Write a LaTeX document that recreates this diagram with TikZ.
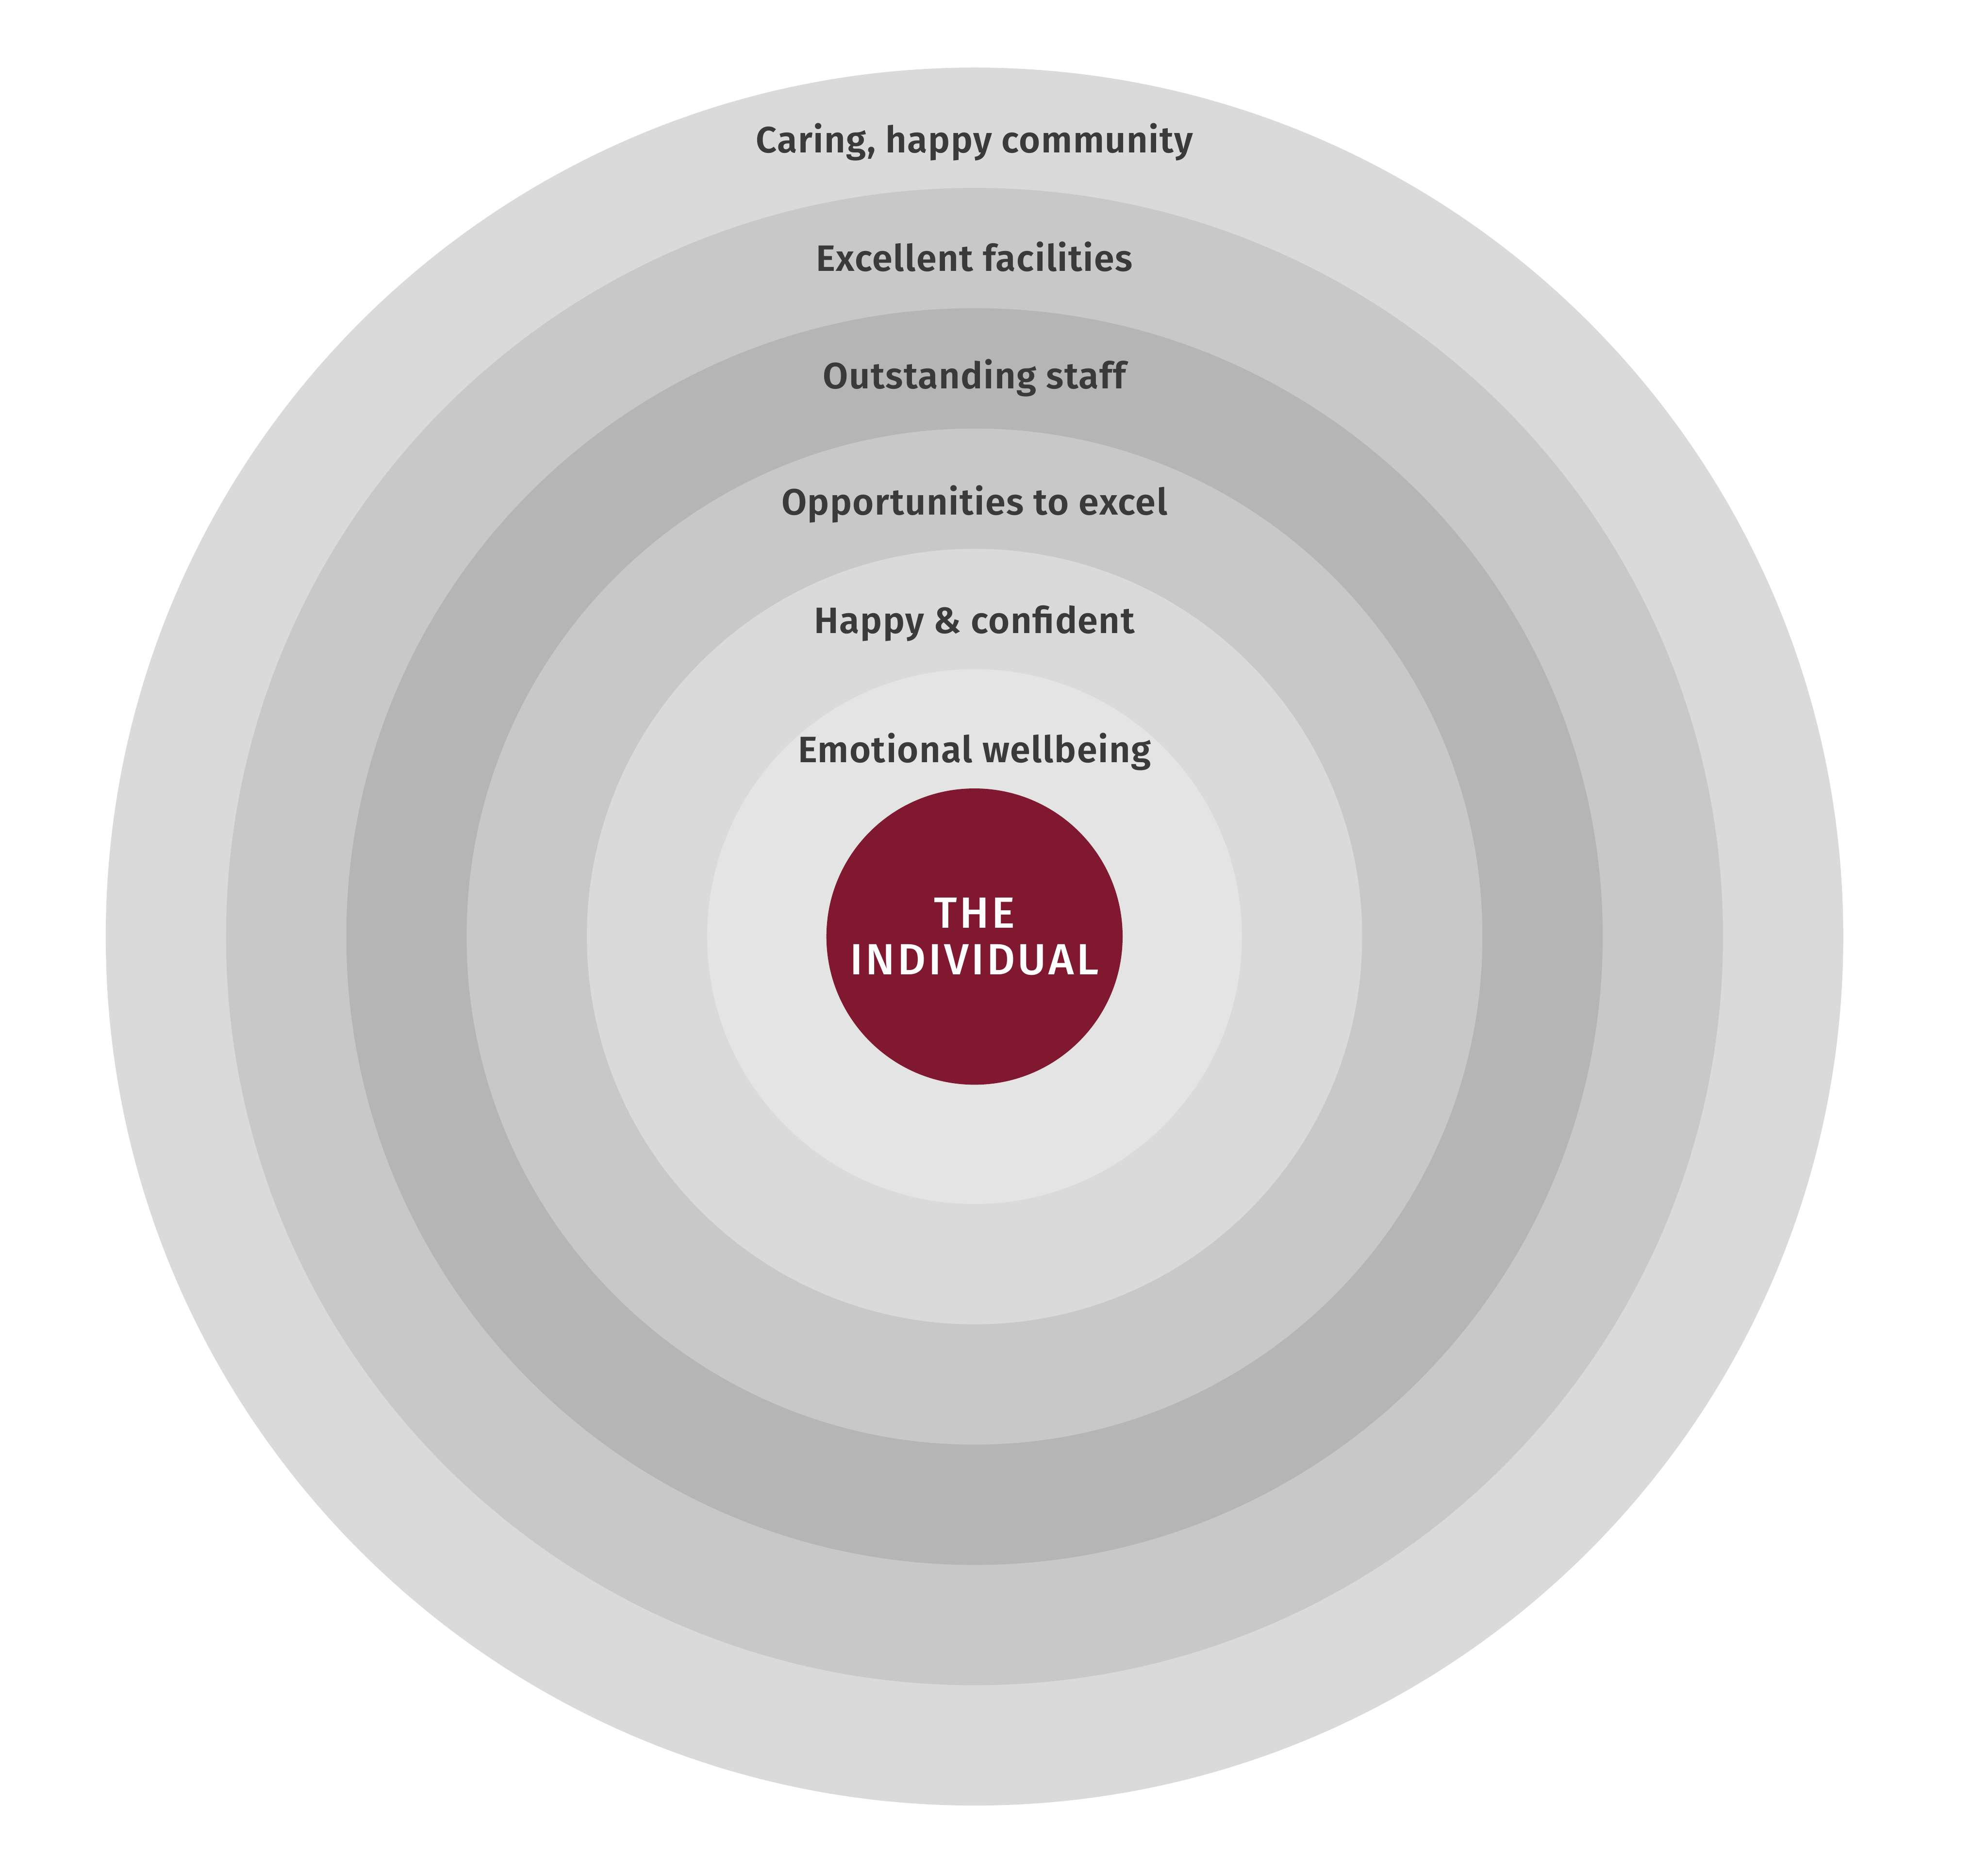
\documentclass[tikz,border=0pt]{standalone}
\usepackage{fontspec}
\setmainfont{Fira Sans}
\newfontfamily\ringfont[LetterSpace=2]{Fira Sans SemiBold}
\newfontfamily\corefont[LetterSpace=6]{Fira Sans Medium}

\definecolor{ringlight}{HTML}{DADADA}
\definecolor{ringmid}{HTML}{C8C8C8}
\definecolor{ringdark}{HTML}{B5B5B5}
\definecolor{ringpale}{HTML}{E4E4E4}
\definecolor{claret}{HTML}{801830}
\definecolor{labelgray}{HTML}{3A3A3A}

\tikzset{
  ringlabel/.style={font=\ringfont\fontsize{10.5}{12}\selectfont, text=labelgray, inner sep=0pt},
  corelabel/.style={font=\corefont\fontsize{12.5}{13.4}\selectfont, text=white, align=center, inner sep=0pt}
}

\begin{document}
\begin{tikzpicture}
    \useasboundingbox (-9.804,-9.236) rectangle (10.196,9.42);
    \fill[white] (-9.804,-9.236) rectangle (10.196,9.42);

    % Ringe von aussen nach innen
    \fill[ringlight] (0,0) circle (8.74);
    \fill[ringmid] (0,0) circle (7.53);
    \fill[ringdark] (0,0) circle (6.32);
    \fill[ringmid] (0,0) circle (5.11);
    \fill[ringlight] (0,0) circle (3.90);
    \fill[ringpale] (0,0) circle (2.69);

    % Kern
    \fill[claret] (0,0.0) circle (1.49);
    \node[corelabel] (individual) at (0,0) {THE\\INDIVIDUAL};

    % Beschriftungen
    \node[ringlabel] (community) at (0,7.99) {Caring, happy community};
    \node[ringlabel] (facilities) at (0,6.84) {Excellent facilities};
    \node[ringlabel] (staff) at (0,5.62) {Outstanding staff};
    \node[ringlabel] (excel) at (0,4.35) {Opportunities to excel};
    \node[ringlabel] (confident) at (0,3.15) {Happy \& confident};
    \node[ringlabel] (wellbeing) at (0,1.86) {Emotional wellbeing};
\end{tikzpicture}
\end{document}
